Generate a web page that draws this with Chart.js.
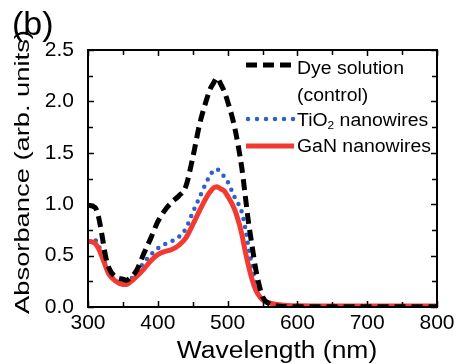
<!DOCTYPE html>
<html>
<head>
<meta charset="utf-8">
<script src="https://cdn.jsdelivr.net/npm/chart.js@4"></script>
<style>
  html, body { margin: 0; padding: 0; background: #fff; }
  #wrap { width: 456px; height: 364px; }
</style>
</head>
<body>
<div id="wrap"><canvas id="chart" width="456" height="364"></canvas></div>
<script>
"use strict";

// wavelength grid (nm), shared by all three spectra
const wavelengths = [300, 310, 315, 320, 325, 330, 340, 350, 355, 360, 370, 380, 390, 400, 410, 420, 430, 440,
  450, 460, 470, 475, 480, 485, 490, 495, 500, 510, 520, 525, 530, 535, 540, 545, 550, 560, 570, 580,
  600, 650, 700, 750, 800];

const dyeSolution = [0.99, 0.97, 0.88, 0.70, 0.50, 0.38, 0.29, 0.27, 0.26, 0.28, 0.36, 0.52, 0.67, 0.83, 0.94, 1.02, 1.08, 1.17,
  1.45, 1.78, 2.02, 2.12, 2.18, 2.23, 2.17, 2.10, 2.00, 1.75, 1.37, 1.10, 0.82, 0.60, 0.38, 0.22, 0.10, 0.03, 0.01, 0.005,
  0.003, 0.003, 0.003, 0.003, 0.003];

const tio2Wires = [0.64, 0.65, 0.60, 0.51, 0.42, 0.34, 0.26, 0.23, 0.23, 0.26, 0.34, 0.43, 0.51, 0.57, 0.61, 0.64, 0.68, 0.76,
  0.92, 1.07, 1.22, 1.28, 1.33, 1.34, 1.31, 1.27, 1.22, 1.07, 0.93, 0.78, 0.58, 0.40, 0.23, 0.12, 0.07, 0.03, 0.02, 0.012,
  0.01, 0.008, 0.008, 0.008, 0.008];

const ganWires = [0.64, 0.62, 0.57, 0.49, 0.40, 0.32, 0.25, 0.22, 0.22, 0.24, 0.30, 0.37, 0.45, 0.51, 0.54, 0.56, 0.60, 0.67,
  0.80, 0.94, 1.07, 1.12, 1.16, 1.17, 1.15, 1.13, 1.08, 0.95, 0.72, 0.55, 0.40, 0.27, 0.17, 0.11, 0.07, 0.04, 0.025, 0.018,
  0.012, 0.01, 0.01, 0.01, 0.01];

const xTicks = { min: 300, max: 800, major: 100, minor: 50 };
const yTicks = { min: 0, max: 2.5, major: 0.5, minor: 0.25 };

const FONT = "'Liberation Sans', Arial, sans-serif";
const BLACK = "#000000";
const BLUE = "#2f5fc8";
const RED = "#f03a32";

const pts = (vals) => vals.map((v, i) => ({ x: wavelengths[i], y: v }));

// inward ticks on all four sides + frame, like the original plot
const framePlugin = {
  id: "frame",
  afterDatasetsDraw(chart) {
    const { ctx, chartArea: a, scales: { x, y } } = chart;
    ctx.save();
    ctx.strokeStyle = "#000";
    ctx.lineWidth = 1.5;
    ctx.beginPath();
    for (let v = xTicks.min; v <= xTicks.max; v += xTicks.minor) {
      const px = Math.round(x.getPixelForValue(v)) + 0.5;
      const len = v % xTicks.major === 0 ? 6 : 5;
      ctx.moveTo(px, a.bottom); ctx.lineTo(px, a.bottom - len);
      ctx.moveTo(px, a.top); ctx.lineTo(px, a.top + len);
    }
    for (let v = yTicks.min; v <= yTicks.max + 1e-9; v += yTicks.minor) {
      const py = Math.round(y.getPixelForValue(v)) + 0.5;
      const len = Math.abs(v / yTicks.major - Math.round(v / yTicks.major)) < 1e-6 ? 6 : 5;
      ctx.moveTo(a.left, py); ctx.lineTo(a.left + len, py);
      ctx.moveTo(a.right, py); ctx.lineTo(a.right - len, py);
    }
    ctx.stroke();
    ctx.lineWidth = 2;
    ctx.strokeRect(a.left, a.top, a.right - a.left, a.bottom - a.top);
    ctx.restore();
  },
};

// stretched text helper (the original figure is a bit wide)
function drawText(ctx, txt, x, y, size, sx, align, rot) {
  ctx.save();
  ctx.translate(x, y);
  if (rot) ctx.rotate(rot);
  ctx.scale(sx, 1);
  ctx.font = `${size}px ${FONT}`;
  ctx.textAlign = align || "left";
  ctx.textBaseline = "alphabetic";
  ctx.fillStyle = "#000";
  ctx.fillText(txt, 0, 0);
  ctx.restore();
}

const annotPlugin = {
  id: "annot",
  afterDraw(chart) {
    const { ctx } = chart;
    // panel label and axis titles
    drawText(ctx, "(b)", 12, 35, 34, 1.0, "left");
    drawText(ctx, "Wavelength (nm)", 277, 358, 23, 1.15, "center");
    drawText(ctx, "Absorbance (arb. units)", 29, 172, 21, 1.3, "center", -Math.PI / 2);

    // legend
    const x0 = 246, x1 = 294, tx = 297, sx = 1.08, fs = 18;
    ctx.save();
    ctx.lineWidth = 5;
    ctx.strokeStyle = BLACK;
    ctx.setLineDash([11, 6]);
    ctx.beginPath(); ctx.moveTo(x0, 65); ctx.lineTo(x1, 65); ctx.stroke();
    ctx.strokeStyle = BLUE;
    ctx.lineWidth = 4.5;
    ctx.lineCap = "round";
    ctx.setLineDash([0, 9]);
    ctx.beginPath(); ctx.moveTo(x0 + 2, 119); ctx.lineTo(x1, 119); ctx.stroke();
    ctx.strokeStyle = RED;
    ctx.lineWidth = 5;
    ctx.lineCap = "butt";
    ctx.setLineDash([]);
    ctx.beginPath(); ctx.moveTo(x0, 146); ctx.lineTo(x1, 146); ctx.stroke();
    ctx.restore();

    drawText(ctx, "Dye solution", tx, 74, fs, sx);
    drawText(ctx, "(control)", tx, 101, fs, sx);
    // TiO2 with a subscript 2
    ctx.save();
    ctx.font = `${fs}px ${FONT}`;
    const wTiO = ctx.measureText("TiO").width * sx;
    ctx.font = `11px ${FONT}`;
    const w2 = ctx.measureText("2").width * sx;
    ctx.restore();
    drawText(ctx, "TiO", tx, 126, fs, sx);
    drawText(ctx, "2", tx + wTiO, 129, 11, sx);
    drawText(ctx, " nanowires", tx + wTiO + w2, 126, fs, sx);
    drawText(ctx, "GaN nanowires", tx, 152, fs, sx);
  },
};

new Chart(document.getElementById("chart"), {
  type: "line",
  data: {
    datasets: [
      {
        label: "Dye solution (control)",
        data: pts(dyeSolution),
        borderColor: BLACK, borderWidth: 5, borderDash: [11, 6],
        order: 0,
      },
      {
        label: "TiO2 nanowires",
        data: pts(tio2Wires),
        borderColor: BLUE, borderWidth: 4.5, borderDash: [0, 8], borderCapStyle: "round",
        order: 2,
      },
      {
        label: "GaN nanowires",
        data: pts(ganWires),
        borderColor: RED, borderWidth: 5,
        order: 1,
      },
    ],
  },
  options: {
    responsive: false,
    animation: false,
    events: [],
    layout: { padding: { top: 50, right: 19, left: 0, bottom: 0 } },
    elements: {
      point: { radius: 0 },
      line: { cubicInterpolationMode: "monotone", fill: false },
    },
    plugins: { legend: { display: false }, tooltip: { enabled: false } },
    scales: {
      x: {
        type: "linear", min: xTicks.min, max: xTicks.max,
        grid: { display: false }, border: { display: false },
        ticks: {
          stepSize: xTicks.major, padding: -4, color: "#000",
          font: { family: FONT, size: 21 }, maxRotation: 0, autoSkip: false,
        },
        afterFit: (s) => { s.height = 57; },
      },
      y: {
        type: "linear", min: yTicks.min, max: yTicks.max,
        grid: { display: false }, border: { display: false },
        ticks: {
          stepSize: yTicks.major, padding: 6, color: "#000",
          font: { family: FONT, size: 21 }, autoSkip: false,
          callback: (v) => v.toFixed(1),
        },
        afterFit: (s) => { s.width = 88; },
      },
    },
  },
  plugins: [framePlugin, annotPlugin],
});
</script>
</body>
</html>
